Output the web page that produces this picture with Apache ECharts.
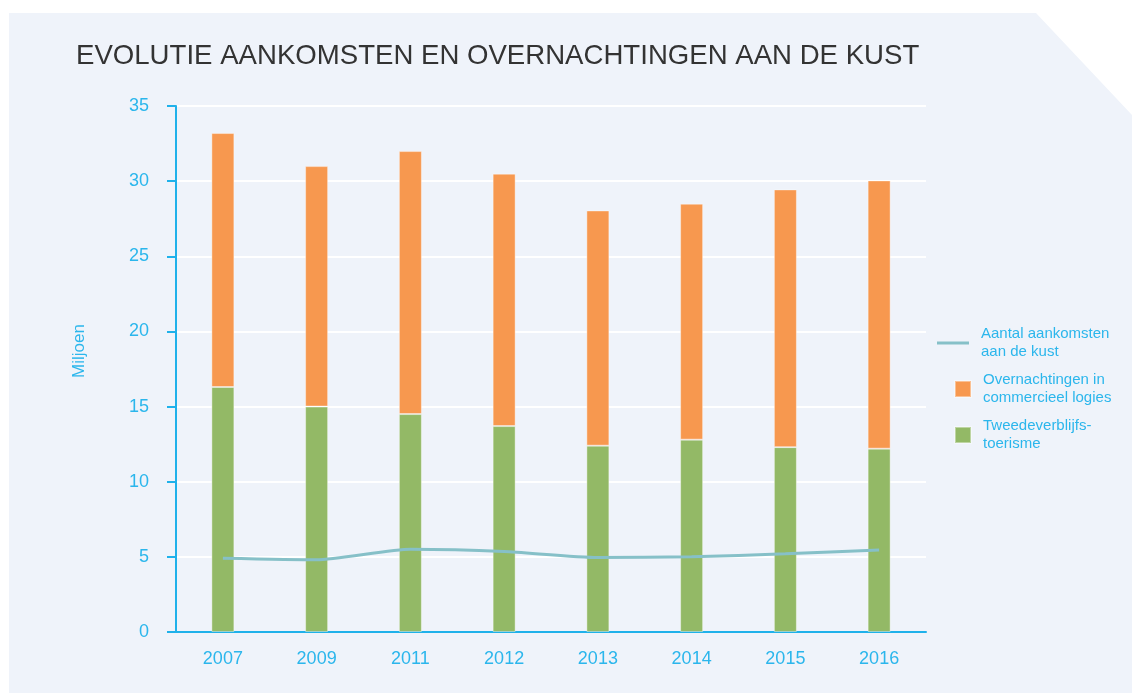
<!DOCTYPE html>
<html>
<head>
<meta charset="utf-8">
<script src="https://cdn.jsdelivr.net/npm/echarts@6/dist/echarts.min.js"></script>
<style>
  html, body { margin: 0; padding: 0; background: #fff; }
  #chart { width: 1132px; height: 693px; }
</style>
</head>
<body>
<div id="chart"></div>
<script>
// jaren
var years = ["2007", "2009", "2011", "2012", "2013", "2014", "2015", "2016"];
// miljoen overnachtingen
var tweedeverblijf = [16.3, 15.0, 14.5, 13.7, 12.4, 12.8, 12.3, 12.2];
var commercieel = [16.9, 16.0, 17.5, 16.8, 15.65, 15.7, 17.15, 17.85];
// miljoen aankomsten
var aankomsten = [4.9, 4.8, 5.5, 5.35, 4.95, 5.0, 5.2, 5.45];

var axisBlue = "#1fb1ea";
var labelBlue = "#2bb6ec";

var myChart = echarts.init(document.getElementById("chart"));
var option = {
    animation: false,
    graphic: [{
        type: "polygon",
        z: -10,
        silent: true,
        shape: { points: [[9, 13], [1036, 13], [1132, 115], [1132, 693], [9, 693]] },
        style: { fill: "#eff3fa" }
    }],
    title: {
        text: "EVOLUTIE AANKOMSTEN EN OVERNACHTINGEN AAN DE KUST",
        left: 71,
        top: 37,
        textStyle: { fontFamily: "Liberation Sans", fontSize: 27.6, fontWeight: "normal", color: "#333" }
    },
    legend: [{
        orient: "vertical",
        left: 937,
        top: 325,
        padding: 0,
        itemWidth: 32,
        itemHeight: 3,
        data: [{ name: "Aantal aankomsten\naan de kust", icon: "rect" }],
        textStyle: { fontFamily: "Liberation Sans", fontSize: 15, color: labelBlue, lineHeight: 18, padding: [0, 0, 0, 7] }
    }, {
        orient: "vertical",
        left: 954,
        top: 371,
        padding: 0,
        itemWidth: 16,
        itemHeight: 16,
        itemGap: 10,
        data: [
            { name: "Overnachtingen in\ncommercieel logies", icon: "rect" },
            { name: "Tweedeverblijfs-\ntoerisme", icon: "rect" }
        ],
        textStyle: { fontFamily: "Liberation Sans", fontSize: 15, color: labelBlue, lineHeight: 18, padding: [0, 0, 0, 7] }
    }],
    grid: { left: 176, right: 206, top: 106, bottom: 61 },
    xAxis: {
        type: "category",
        data: years,
        axisLine: { lineStyle: { color: axisBlue, width: 2 } },
        axisTick: { length: 7, lineStyle: { color: axisBlue, width: 2 } },
        axisLabel: { margin: 18, fontFamily: "Liberation Sans", fontSize: 18, color: labelBlue }
    },
    yAxis: {
        type: "value",
        min: 0,
        max: 35,
        interval: 5,
        name: "Miljoen",
        nameLocation: "middle",
        nameGap: 88,
        nameRotate: 90,
        nameTextStyle: { fontFamily: "Liberation Sans", fontSize: 17, color: labelBlue, padding: [0, 0, 0, 36] },
        axisLine: { show: true, lineStyle: { color: axisBlue, width: 2 } },
        axisTick: { show: true, length: 9, lineStyle: { color: axisBlue, width: 2 } },
        axisLabel: { margin: 27, fontFamily: "Liberation Sans", fontSize: 18, color: labelBlue },
        splitLine: { lineStyle: { color: "#ffffff", width: 2 } }
    },
    series: [{
        name: "Tweedeverblijfs-\ntoerisme",
        type: "bar",
        stack: "totaal",
        barWidth: 23,
        data: tweedeverblijf,
        itemStyle: { color: "#93b966", borderColor: "rgba(255,255,255,0.4)", borderWidth: 1 }
    }, {
        name: "Overnachtingen in\ncommercieel logies",
        type: "bar",
        stack: "totaal",
        barWidth: 23,
        data: commercieel,
        itemStyle: { color: "#f7984f", borderColor: "rgba(255,255,255,0.4)", borderWidth: 1 }
    }, {
        name: "Aantal aankomsten\naan de kust",
        type: "line",
        data: aankomsten,
        symbol: "none",
        smooth: 0.2,
        z: 5,
        lineStyle: { color: "#86c0c8", width: 3 },
        itemStyle: { color: "#86c0c8" }
    }]
};
myChart.setOption(option);
</script>
</body>
</html>
